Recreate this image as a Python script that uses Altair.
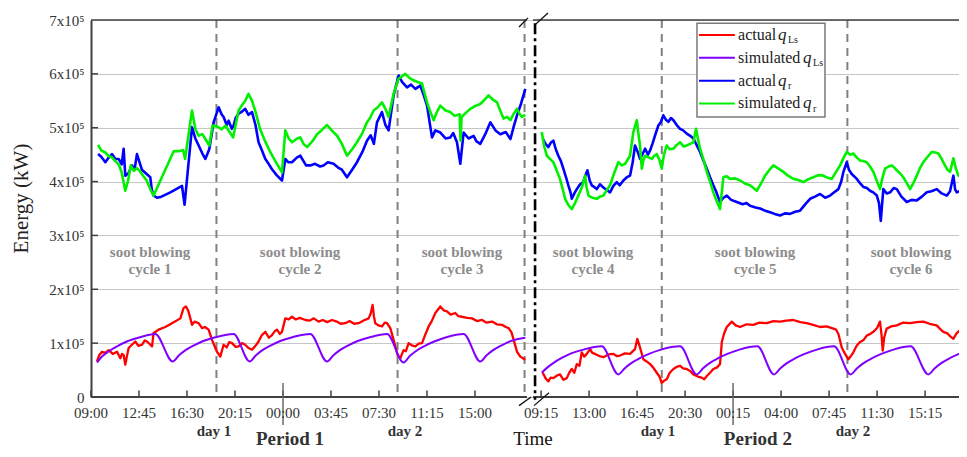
import altair as alt
import pandas as pd

# ---------------- layout of the broken time axis (hours) ----------------
P2_OFFSET = 34.91          # axis position of 09:00 of period 2
X_MAX = 67.81
AXIS_GAP = (34.06, 34.53)  # interruption of the frame
BREAK_LINE = 34.69         # dash-dot separator

# ---------------- tick labels ----------------
P1_TICK_HOURS = [0, 3.75, 7.5, 11.25, 15, 18.75, 22.5, 26.25, 30]
P1_TICK_LABELS = ["09:00", "12:45", "16:30", "20:15", "00:00", "03:45", "07:30", "11:15", "15:00"]
P2_TICK_HOURS = [0.25, 4.0, 7.75, 11.5, 15.25, 19.0, 22.75, 26.5, 30.25]
P2_TICK_LABELS = ["09:15", "13:00", "16:45", "20:30", "00:15", "04:00", "07:45", "11:30", "15:15"]
P1_MIDNIGHT = 15.0
P2_MIDNIGHT = 15.25
Y_TICKS = [0, 1, 2, 3, 4, 5, 6, 7]

# day boundaries (dashed) in hours since 09:00 of each period
P1_DAY_LINES = [9.8, 23.95, 33.87]
P2_DAY_LINES = [9.68, 24.18]

# ---------------- series (hours, energy in 1e5 kW) ----------------
P1_ACTUAL_QLS = [(0.47,0.66),(0.65,0.78),(0.86,0.84),(1.1,0.82),(1.38,0.87),(1.7,0.80),(2.03,0.84),(2.29,0.72),(2.42,0.80),(2.55,0.78),(2.68,0.60),(2.8,0.75),(2.94,0.91),(3.2,0.97),(3.46,1.03),(3.7,0.95),(3.98,0.97),(4.2,1.05),(4.38,1.03),(4.6,0.98),(4.77,0.94),(4.89,1.19),(5.28,1.25),(5.8,1.30),(6.33,1.37),(6.98,1.46),(7.23,1.65),(7.42,1.68),(7.6,1.60),(7.76,1.46),(7.89,1.34),(8.1,1.40),(8.41,1.37),(8.67,1.28),(8.9,1.30),(9.19,1.25),(9.45,1.06),(9.84,0.84),(10.1,0.75),(10.36,0.97),(10.6,0.92),(10.8,1.02),(11.02,1.00),(11.3,0.93),(11.53,0.94),(11.8,1.00),(12.05,0.97),(12.3,0.91),(12.58,0.88),(12.85,0.95),(13.09,1.03),(13.35,1.15),(13.62,1.21),(13.9,1.10),(14.14,1.15),(14.35,1.22),(14.53,1.25),(14.75,1.17),(14.92,1.21),(15.18,1.46),(15.45,1.44),(15.70,1.49),(16.0,1.44),(16.3,1.47),(16.74,1.43),(17.1,1.42),(17.4,1.46),(17.78,1.40),(18.1,1.43),(18.45,1.39),(18.83,1.43),(19.2,1.40),(19.5,1.36),(19.87,1.37),(20.2,1.41),(20.55,1.36),(20.91,1.37),(21.3,1.42),(21.69,1.46),(21.85,1.55),(22.0,1.71),(22.1,1.50),(22.21,1.37),(22.45,1.33),(22.73,1.31),(22.95,1.38),(23.13,1.37),(23.38,1.28),(23.64,1.06),(23.95,0.78),(24.16,0.72),(24.42,0.87),(24.6,0.85),(24.81,1.00),(25.05,0.96),(25.34,0.94),(25.6,0.99),(25.86,1.00),(26.1,1.15),(26.38,1.31),(26.6,1.40),(26.9,1.56),(27.1,1.62),(27.29,1.68),(27.55,1.61),(27.81,1.59),(28.1,1.53),(28.46,1.56),(28.7,1.50),(28.98,1.49),(29.4,1.47),(29.77,1.46),(30.15,1.41),(30.55,1.43),(30.9,1.38),(31.33,1.40),(31.7,1.35),(32.11,1.34),(32.4,1.30),(32.63,1.28),(32.85,1.20),(33.02,1.06),(33.28,0.84),(33.54,0.75),(33.93,0.69)]

P1_SIM_QLS = [(0.47,0.64),(0.9,0.76),(1.4,0.85),(2.1,0.95),(2.8,1.03),(3.7,1.10),(5.02,1.17),(6.38,0.66),(6.86,0.77),(7.33,0.86),(8.05,0.96),(8.77,1.04),(9.72,1.11),(11.14,1.17),(12.39,0.66),(12.87,0.77),(13.34,0.86),(14.06,0.96),(14.78,1.04),(15.73,1.11),(17.13,1.17),(18.44,0.66),(18.92,0.77),(19.39,0.86),(20.11,0.96),(20.83,1.04),(21.78,1.11),(23.13,1.17),(24.42,0.64),(24.9,0.76),(25.37,0.85),(26.09,0.95),(26.81,1.03),(27.76,1.11),(29.11,1.17),(30.41,0.66),(30.89,0.77),(31.36,0.86),(32.08,0.96),(32.8,1.04),(33.93,1.10)]

P1_ACTUAL_QR = [(0.55,4.51),(0.8,4.46),(1.12,4.36),(1.4,4.45),(1.64,4.51),(1.9,4.42),(2.16,4.42),(2.4,4.32),(2.55,4.61),(2.68,4.11),(2.94,4.16),(3.2,4.30),(3.4,4.22),(3.59,4.51),(3.8,4.35),(3.98,4.22),(4.3,4.15),(4.63,4.08),(4.75,3.85),(4.89,3.74),(5.16,3.70),(5.5,3.72),(6.2,3.80),(7.11,3.92),(7.31,3.57),(7.89,5.01),(8.15,4.80),(8.41,4.67),(8.7,4.52),(8.93,4.42),(9.24,4.60),(9.58,5.10),(9.97,5.38),(10.2,5.25),(10.36,5.20),(10.6,5.05),(10.75,5.13),(11.0,4.98),(11.14,5.04),(11.3,5.18),(11.53,5.26),(11.8,5.30),(12.05,5.35),(12.3,5.24),(12.58,5.29),(12.85,5.05),(13.09,4.73),(13.35,4.58),(13.62,4.42),(13.9,4.32),(14.14,4.23),(14.5,4.12),(14.92,4.02),(15.18,4.42),(15.4,4.36),(15.70,4.36),(16.1,4.45),(16.35,4.48),(16.8,4.30),(17.13,4.30),(17.5,4.33),(17.9,4.28),(18.17,4.30),(18.5,4.36),(18.95,4.33),(19.3,4.26),(19.6,4.22),(20.0,4.08),(20.4,4.22),(20.78,4.36),(21.2,4.55),(21.56,4.76),(21.85,4.86),(22.1,4.70),(22.34,5.10),(22.73,5.29),(23.0,5.05),(23.25,4.95),(23.64,5.60),(24.03,5.97),(24.3,5.85),(24.69,5.75),(25.0,5.80),(25.34,5.72),(25.73,5.78),(26.0,5.60),(26.25,5.41),(26.64,4.82),(26.9,4.95),(27.29,4.91),(27.7,4.80),(28.07,4.82),(28.3,4.90),(28.59,4.73),(28.85,4.33),(29.11,4.91),(29.5,4.80),(29.89,4.85),(30.1,4.75),(30.41,4.70),(30.8,4.88),(31.2,5.10),(31.6,4.95),(31.98,4.88),(32.4,4.92),(32.77,4.79),(33.0,5.00),(33.28,5.23),(33.6,5.45),(33.93,5.72)]

P1_SIM_QR = [(0.55,4.68),(0.8,4.58),(1.12,4.54),(1.4,4.47),(1.64,4.45),(1.9,4.38),(2.16,4.32),(2.4,4.17),(2.68,3.83),(2.9,4.02),(3.1,4.30),(3.35,4.20),(3.59,4.25),(3.8,4.20),(4.1,4.10),(4.35,4.02),(4.63,3.86),(4.89,3.74),(6.45,4.56),(7.0,4.57),(7.2,4.58),(7.35,4.42),(7.89,5.32),(8.15,4.98),(8.41,4.85),(8.7,4.88),(8.93,4.79),(9.24,4.67),(9.5,5.04),(9.97,5.01),(10.2,4.97),(10.5,5.04),(10.8,4.93),(11.1,4.82),(11.3,5.05),(11.53,5.32),(11.8,5.42),(12.05,5.50),(12.3,5.63),(12.58,5.50),(12.85,5.30),(13.2,4.98),(13.6,4.75),(14.0,4.55),(14.4,4.38),(14.92,4.17),(15.18,4.95),(15.45,4.80),(15.70,4.73),(16.1,4.80),(16.35,4.82),(16.6,4.70),(16.88,4.64),(17.3,4.75),(17.66,4.88),(18.0,4.95),(18.44,5.05),(18.8,4.95),(19.22,4.85),(19.6,4.70),(20.0,4.48),(20.4,4.60),(20.78,4.73),(21.2,4.90),(21.56,5.10),(21.8,5.18),(22.08,5.32),(22.4,5.38),(22.73,5.47),(23.0,5.35),(23.25,5.20),(23.64,5.63),(24.03,5.91),(24.55,6.00),(24.9,5.92),(25.2,5.88),(25.5,5.85),(25.86,5.82),(26.25,5.47),(26.5,5.30),(26.77,5.14),(27.0,5.28),(27.29,5.41),(27.7,5.32),(28.07,5.29),(28.4,5.22),(28.8,5.25),(28.87,4.76),(28.95,5.20),(29.3,5.28),(29.63,5.35),(30.0,5.40),(30.41,5.44),(30.75,5.52),(31.06,5.60),(31.4,5.52),(31.72,5.47),(32.0,5.30),(32.23,5.17),(32.5,5.20),(32.77,5.14),(33.0,5.25),(33.28,5.35),(33.5,5.25),(33.67,5.20),(33.93,5.24)]

P2_ACTUAL_QLS = [(0.38,0.45),(0.6,0.35),(0.82,0.29),(1.0,0.36),(1.21,0.35),(1.5,0.40),(1.73,0.42),(2.0,0.32),(2.26,0.35),(2.45,0.45),(2.65,0.52),(2.85,0.45),(3.04,0.61),(3.25,0.58),(3.43,0.83),(3.62,0.75),(3.82,0.80),(4.08,0.89),(4.25,0.82),(4.47,0.80),(4.8,0.76),(5.12,0.74),(5.5,0.79),(5.9,0.80),(6.15,0.76),(6.42,0.77),(6.8,0.81),(7.2,0.80),(7.59,0.89),(7.77,1.08),(7.98,0.92),(8.24,0.70),(8.5,0.66),(8.77,0.61),(9.0,0.55),(9.29,0.45),(9.5,0.38),(9.68,0.26),(9.85,0.30),(10.07,0.33),(10.3,0.45),(10.59,0.52),(10.85,0.56),(11.11,0.58),(11.35,0.53),(11.63,0.52),(11.9,0.48),(12.15,0.42),(12.5,0.38),(12.8,0.36),(13.0,0.33),(13.2,0.39),(13.45,0.45),(13.71,0.52),(14.0,0.55),(14.23,0.61),(14.37,1.02),(14.55,1.18),(14.76,1.30),(15.15,1.40),(15.45,1.33),(15.8,1.30),(16.3,1.35),(16.84,1.34),(17.3,1.38),(17.88,1.37),(18.4,1.41),(18.92,1.40),(19.4,1.42),(19.96,1.43),(20.5,1.39),(21.0,1.37),(21.5,1.34),(22.04,1.30),(22.55,1.31),(23.09,1.27),(23.3,1.25),(23.48,1.17),(23.74,0.92),(24.0,0.80),(24.26,0.70),(24.45,0.76),(24.65,0.83),(24.9,0.95),(25.17,1.02),(25.45,1.06),(25.69,1.14),(25.95,1.17),(26.21,1.21),(26.5,1.28),(26.73,1.40),(26.85,1.15),(26.94,0.86),(27.05,1.10),(27.25,1.27),(27.6,1.31),(28.04,1.33),(28.5,1.38),(29.08,1.37),(29.6,1.39),(30.11,1.40),(30.6,1.36),(31.16,1.33),(31.4,1.27),(31.67,1.21),(32.0,1.18),(32.2,1.13),(32.46,1.08),(32.7,1.18),(32.98,1.24),(33.25,1.15),(33.51,1.11)]

P2_SIM_QLS = [(0.3,0.45),(0.75,0.55),(1.2,0.63),(1.9,0.73),(2.6,0.81),(3.55,0.88),(4.99,0.94),(6.29,0.42),(6.77,0.53),(7.24,0.62),(7.96,0.72),(8.68,0.80),(9.63,0.88),(11.11,0.94),(12.41,0.42),(12.89,0.53),(13.36,0.62),(14.08,0.72),(14.8,0.80),(15.75,0.88),(17.15,0.94),(18.45,0.42),(18.93,0.53),(19.4,0.62),(20.12,0.72),(20.84,0.80),(21.79,0.88),(23.14,0.94),(24.44,0.42),(24.92,0.53),(25.39,0.62),(26.11,0.72),(26.83,0.80),(27.78,0.88),(29.12,0.94),(30.51,0.42),(30.99,0.53),(31.46,0.62),(32.18,0.72),(32.9,0.80),(33.51,0.85)]

P2_ACTUAL_QR = [(0.38,4.80),(0.6,4.70),(0.82,4.64),(1.0,4.72),(1.21,4.76),(1.4,4.60),(1.6,4.48),(1.8,4.38),(1.99,4.24),(2.2,4.08),(2.38,3.93),(2.55,3.80),(2.65,3.68),(2.85,3.78),(3.04,3.86),(3.3,3.95),(3.55,3.99),(3.7,4.10),(3.87,4.21),(4.05,4.02),(4.21,3.93),(4.4,3.90),(4.6,3.86),(4.85,3.95),(5.12,3.89),(5.4,3.84),(5.64,3.80),(5.9,3.92),(6.16,3.99),(6.4,3.93),(6.68,4.02),(6.95,4.08),(7.2,4.11),(7.4,4.35),(7.59,4.67),(7.8,4.55),(7.98,4.42),(8.2,4.52),(8.38,4.61),(8.6,4.50),(8.77,4.58),(8.95,4.70),(9.16,4.86),(9.41,5.04),(9.6,5.10),(9.8,5.23),(10.0,5.15),(10.2,5.11),(10.4,5.18),(10.59,5.14),(10.85,5.05),(11.11,4.98),(11.35,4.95),(11.63,4.89),(11.9,4.85),(12.15,4.80),(12.4,4.68),(12.67,4.55),(12.95,4.38),(13.2,4.24),(13.45,4.08),(13.71,3.93),(13.95,3.80),(14.23,3.62),(14.5,3.70),(14.76,3.74),(15.1,3.66),(15.54,3.62),(16.0,3.58),(16.3,3.60),(16.58,3.55),(17.0,3.52),(17.36,3.50),(17.75,3.46),(18.14,3.43),(18.5,3.40),(18.92,3.37),(19.3,3.41),(19.7,3.40),(20.1,3.44),(20.48,3.46),(20.9,3.58),(21.27,3.68),(21.65,3.72),(22.05,3.77),(22.45,3.70),(22.83,3.74),(23.15,3.80),(23.48,3.86),(23.7,4.00),(23.87,4.18),(24.13,4.36),(24.3,4.22),(24.52,4.14),(24.7,4.10),(24.91,4.05),(25.2,3.96),(25.43,3.90),(25.7,3.88),(25.95,3.83),(26.2,3.80),(26.48,3.74),(26.65,3.60),(26.79,3.27),(26.9,3.60),(26.99,3.86),(27.25,3.78),(27.52,3.80),(27.8,3.88),(28.04,3.86),(28.4,3.72),(28.82,3.62),(29.2,3.66),(29.6,3.65),(30.0,3.72),(30.38,3.80),(30.75,3.82),(31.16,3.86),(31.55,3.78),(31.95,3.74),(32.2,3.82),(32.46,4.11),(32.6,3.85),(32.73,3.80),(33.1,3.84),(33.51,3.86)]

P2_SIM_QR = [(0.3,4.92),(0.5,4.65),(0.7,4.48),(0.95,4.42),(1.21,4.36),(1.45,4.22),(1.73,4.05),(1.95,3.85),(2.13,3.68),(2.4,3.56),(2.65,3.49),(2.9,3.60),(3.16,3.74),(3.45,3.90),(3.69,4.11),(3.8,3.90),(3.95,3.74),(4.25,3.70),(4.6,3.68),(4.85,3.72),(5.12,3.74),(5.4,3.85),(5.64,3.93),(5.95,4.15),(6.29,4.36),(6.55,4.30),(6.82,4.33),(7.0,4.40),(7.2,4.48),(7.46,4.92),(7.73,5.14),(7.85,4.90),(7.98,4.67),(8.12,4.24),(8.25,4.40),(8.38,4.48),(8.65,4.45),(8.9,4.42),(9.1,4.48),(9.29,4.51),(9.5,4.40),(9.68,4.24),(9.85,4.50),(10.07,4.67),(10.3,4.60),(10.59,4.61),(10.85,4.68),(11.11,4.73),(11.4,4.65),(11.63,4.67),(11.9,4.70),(12.15,4.73),(12.36,4.98),(12.5,4.80),(12.67,4.61),(12.95,4.40),(13.2,4.18),(13.45,4.00),(13.71,3.80),(13.95,3.65),(14.23,3.49),(14.49,4.08),(14.75,4.10),(15.02,4.05),(15.4,4.06),(15.8,4.02),(16.2,3.96),(16.58,3.93),(17.1,3.83),(17.4,3.95),(17.75,4.11),(18.1,4.22),(18.4,4.30),(18.8,4.24),(19.18,4.18),(19.6,4.10),(19.96,4.05),(20.35,4.03),(20.74,3.99),(21.1,4.04),(21.52,4.08),(21.9,4.12),(22.3,4.11),(22.65,4.07),(22.96,4.05),(23.3,4.18),(23.61,4.30),(23.9,4.45),(24.13,4.55),(24.4,4.50),(24.65,4.52),(24.9,4.45),(25.17,4.39),(25.45,4.38),(25.69,4.36),(25.95,4.28),(26.21,4.18),(26.5,4.00),(26.73,3.86),(26.9,4.05),(27.12,4.24),(27.4,4.28),(27.64,4.30),(27.85,4.26),(28.04,4.21),(28.3,4.15),(28.55,4.08),(28.8,3.98),(29.08,3.86),(29.35,3.98),(29.6,4.11),(29.85,4.25),(30.11,4.36),(30.45,4.46),(30.77,4.55),(31.05,4.54),(31.29,4.52),(31.55,4.42),(31.8,4.30),(32.0,4.22),(32.2,4.18),(32.46,4.43),(32.65,4.25),(32.85,4.11),(33.2,4.08),(33.51,4.05)]

SERIES_NAMES = ["actual qLs", "simulated qLs", "actual qr", "simulated qr"]
SERIES_COLORS = ["#ff0000", "#8000ff", "#0000ff", "#00f000"]
SERIES_WIDTHS = [2.3, 2.0, 2.6, 2.6]

# annotations
CYCLE_LABELS = ["cycle 1", "cycle 2", "cycle 3", "cycle 4", "cycle 5", "cycle 6"]
CYCLE_POS = [4.61, 16.33, 28.98, 39.22, 51.88, 64.06]
DAY_LABELS = ["day 1", "day 2", "day 1", "day 2"]
DAY_POS = [9.61, 24.53, 44.3, 59.53]
PERIOD_LABELS = ["Period 1", "Period 2"]
PERIOD_POS = [15.55, 52.1]

LEG_WORDS = ["actual", "simulated", "actual", "simulated"]
LEG_SUBS = ["Ls", "Ls", "r", "r"]
LEG_ROW_V = [6.72, 6.30, 5.87, 5.45]
LEG_Q_POS = [53.67, 55.63, 53.67, 55.63]
LEG_SUB_POS = [54.45, 56.41, 54.45, 56.41]

SERIF = "Liberation Serif"

# ---------------- scales / axis ----------------
xs = alt.Scale(domain=[0, X_MAX], nice=False, zero=False)
ys = alt.Scale(domain=[0, 7], nice=False, zero=False)

YAXIS = alt.Axis(
    values=Y_TICKS, grid=True, gridColor="#c6c6c6", gridWidth=1.2,
    domain=True, domainColor="#404040", domainWidth=2,
    ticks=False, tickSize=0, labelPadding=7,
    labelFont=SERIF, labelFontSize=15, labelColor="#333333",
    labelExpr="datum.value == 0 ? '0' : datum.value + 'x10\u2075'",
    title="Energy (kW)", titleFont=SERIF, titleFontSize=21, titleFontWeight="normal",
    titleColor="#222222", titleX=-70, titleY=178, titleAngle=270,
    titleAlign="center", titleBaseline="middle",
)


def X(f):
    return alt.X(f, type="quantitative", scale=xs, axis=None)


def Y(f):
    return alt.Y(f, type="quantitative", scale=ys, axis=YAXIS)


def series_frame(p1, p2, name):
    rows = [{"pos": t, "v": v, "period": 1, "series": name} for t, v in p1]
    rows += [{"pos": P2_OFFSET + t, "v": v, "period": 2, "series": name} for t, v in p2]
    return pd.DataFrame(rows)


series_data = [
    series_frame(P1_ACTUAL_QLS, P2_ACTUAL_QLS, SERIES_NAMES[0]),
    series_frame(P1_SIM_QLS, P2_SIM_QLS, SERIES_NAMES[1]),
    series_frame(P1_ACTUAL_QR, P2_ACTUAL_QR, SERIES_NAMES[2]),
    series_frame(P1_SIM_QR, P2_SIM_QR, SERIES_NAMES[3]),
]

# ---- inward y ticks (also carry the y axis with grid) ----
ytick_df = pd.DataFrame({"v": Y_TICKS[1:-1]})
ytick_layer = alt.Chart(ytick_df).mark_rule(color="#404040", strokeWidth=1.5).encode(
    y=Y("v"), x=alt.value(0), x2=alt.value(7)
)

# ---- dashed day boundaries ----
day_df = pd.DataFrame({"pos": P1_DAY_LINES + [P2_OFFSET + h for h in P2_DAY_LINES]})
day_layer = alt.Chart(day_df).mark_rule(color="#808080", strokeWidth=2, strokeDash=[8, 6]).encode(x=X("pos"))

# ---- data lines ----
line_layers = []
for df, col, w in zip(series_data, SERIES_COLORS, SERIES_WIDTHS):
    smooth = df["series"].iloc[0] == "simulated qLs"
    line_layers.append(
        alt.Chart(df).mark_line(
            color=col, strokeWidth=w, clip=True, strokeJoin="round",
            interpolate="monotone" if smooth else "linear",
        ).encode(x=X("pos"), y=Y("v"), detail="period:N")
    )

# ---- frame (broken) ----
frame_df = pd.DataFrame({
    "pos": [0, AXIS_GAP[1], 0, AXIS_GAP[1]],
    "pos2": [AXIS_GAP[0], X_MAX, AXIS_GAP[0], X_MAX],
    "v": [0, 0, 7, 7],
    "w": [2.2, 2.2, 1.5, 1.5],
})
frame_layer = alt.Chart(frame_df).mark_rule(color="#404040").encode(
    x=X("pos"), x2="pos2:Q", y=Y("v"), strokeWidth=alt.StrokeWidth("w:Q", scale=None)
)

tick_df = pd.DataFrame({
    "pos": P1_TICK_HOURS + [P2_OFFSET + h for h in P2_TICK_HOURS],
    "label": P1_TICK_LABELS + P2_TICK_LABELS,
})
tick_df["v0"] = 0.0
tick_df["v1"] = 0.12
tick_df["lv"] = -0.30
xtick_layer = alt.Chart(tick_df).mark_rule(color="#404040", strokeWidth=1.5).encode(
    x=X("pos"), y=Y("v0"), y2="v1:Q"
)
xlabel_layer = alt.Chart(tick_df).mark_text(
    font=SERIF, fontSize=15, color="#333333", baseline="middle", align="center"
).encode(x=X("pos"), y=Y("lv"), text="label:N")

mid_df = pd.DataFrame({"pos": [P1_MIDNIGHT, P2_OFFSET + P2_MIDNIGHT], "v0": [0.26, 0.26], "v1": [-0.52, -0.52]})
mid_layer = alt.Chart(mid_df).mark_rule(color="#6a6a6a", strokeWidth=1.5).encode(
    x=X("pos"), y=Y("v0"), y2="v1:Q"
)

# ---- break: dash-dot separator and slashes ----
sep_df = pd.DataFrame({"pos": [BREAK_LINE], "v0": [6.94], "v1": [-0.05]})
sep_layer = alt.Chart(sep_df).mark_rule(color="#000000", strokeWidth=2.6, strokeDash=[11, 4, 3, 4]).encode(
    x=X("pos"), y=Y("v0"), y2="v1:Q"
)
slash_df = pd.DataFrame({
    "pos": [33.44, 34.69, 33.44, 34.61],
    "pos2": [34.14, 35.70, 34.38, 35.78],
    "v": [6.87, 6.91, -0.16, -0.16],
    "v2": [7.04, 7.13, 0.0, 0.08],
})
slash_layer = alt.Chart(slash_df).mark_rule(color="#111111", strokeWidth=1.3).encode(
    x=X("pos"), x2="pos2:Q", y=Y("v"), y2="v2:Q"
)

# ---- texts ----
cyc_rows = []
for lab, p in zip(CYCLE_LABELS, CYCLE_POS):
    cyc_rows.append({"pos": p, "v": 2.70, "t": "soot blowing"})
    cyc_rows.append({"pos": p, "v": 2.38, "t": lab})
cyc_layer = alt.Chart(pd.DataFrame(cyc_rows)).mark_text(
    font=SERIF, fontSize=15, fontWeight="bold", color="#8c8c8c", baseline="middle"
).encode(x=X("pos"), y=Y("v"), text="t:N")

dayl_df = pd.DataFrame({"pos": DAY_POS, "v": [-0.63] * 4, "t": DAY_LABELS})
dayl_layer = alt.Chart(dayl_df).mark_text(
    font=SERIF, fontSize=15, fontWeight="bold", color="#333333", baseline="middle"
).encode(x=X("pos"), y=Y("v"), text="t:N")

per_df = pd.DataFrame({"pos": PERIOD_POS, "v": [-0.785, -0.785], "t": PERIOD_LABELS})
per_layer = alt.Chart(per_df).mark_text(
    font=SERIF, fontSize=19, fontWeight="bold", color="#333333", baseline="middle"
).encode(x=X("pos"), y=Y("v"), text="t:N")

time_df = pd.DataFrame({"pos": [34.53], "v": [-0.785], "t": ["Time"]})
time_layer = alt.Chart(time_df).mark_text(
    font=SERIF, fontSize=19, color="#111111", baseline="middle"
).encode(x=X("pos"), y=Y("v"), text="t:N")

# ---- legend ----
box_df = pd.DataFrame({"pos": [47.34], "pos2": [57.34], "v": [5.20], "v2": [6.94]})
box_layer = alt.Chart(box_df).mark_rect(fill="white", stroke="#7a7a7a", strokeWidth=1.5).encode(
    x=X("pos"), x2="pos2:Q", y=Y("v"), y2="v2:Q"
)
leg_df = pd.DataFrame({
    "v": LEG_ROW_V, "word": LEG_WORDS, "sub": LEG_SUBS, "color": SERIES_COLORS,
    "qpos": LEG_Q_POS, "spos": LEG_SUB_POS,
})
leg_df["s0"] = 47.5
leg_df["s1"] = 50.3
leg_df["tpos"] = 50.55
leg_df["sv"] = leg_df["v"] - 0.1
leg_df["q"] = "q"
sw_layer = alt.Chart(leg_df).mark_rule(strokeWidth=2).encode(
    x=X("s0"), x2="s1:Q", y=Y("v"), color=alt.Color("color:N", scale=None)
)
word_layer = alt.Chart(leg_df).mark_text(
    font=SERIF, fontSize=16, color="#222222", align="left", baseline="middle"
).encode(x=X("tpos"), y=Y("v"), text="word:N")
q_layer = alt.Chart(leg_df).mark_text(
    font=SERIF, fontSize=17, fontStyle="italic", color="#222222", align="left", baseline="middle"
).encode(x=X("qpos"), y=Y("v"), text="q:N")
sub_layer = alt.Chart(leg_df).mark_text(
    font=SERIF, fontSize=10, color="#222222", align="left", baseline="middle"
).encode(x=X("spos"), y=Y("sv"), text="sub:N")

chart = alt.layer(
    ytick_layer, day_layer, *line_layers, frame_layer, xtick_layer, mid_layer, xlabel_layer,
    sep_layer, slash_layer, cyc_layer, dayl_layer, per_layer, time_layer,
    box_layer, sw_layer, word_layer, q_layer, sub_layer,
).properties(
    width=868, height=377, autosize="none",
    padding={"left": 83, "top": 12, "right": 0, "bottom": 52},
    background="white",
).configure_view(stroke=None)

chart.save("out.html", embed_options={"renderer": "svg", "actions": False})
